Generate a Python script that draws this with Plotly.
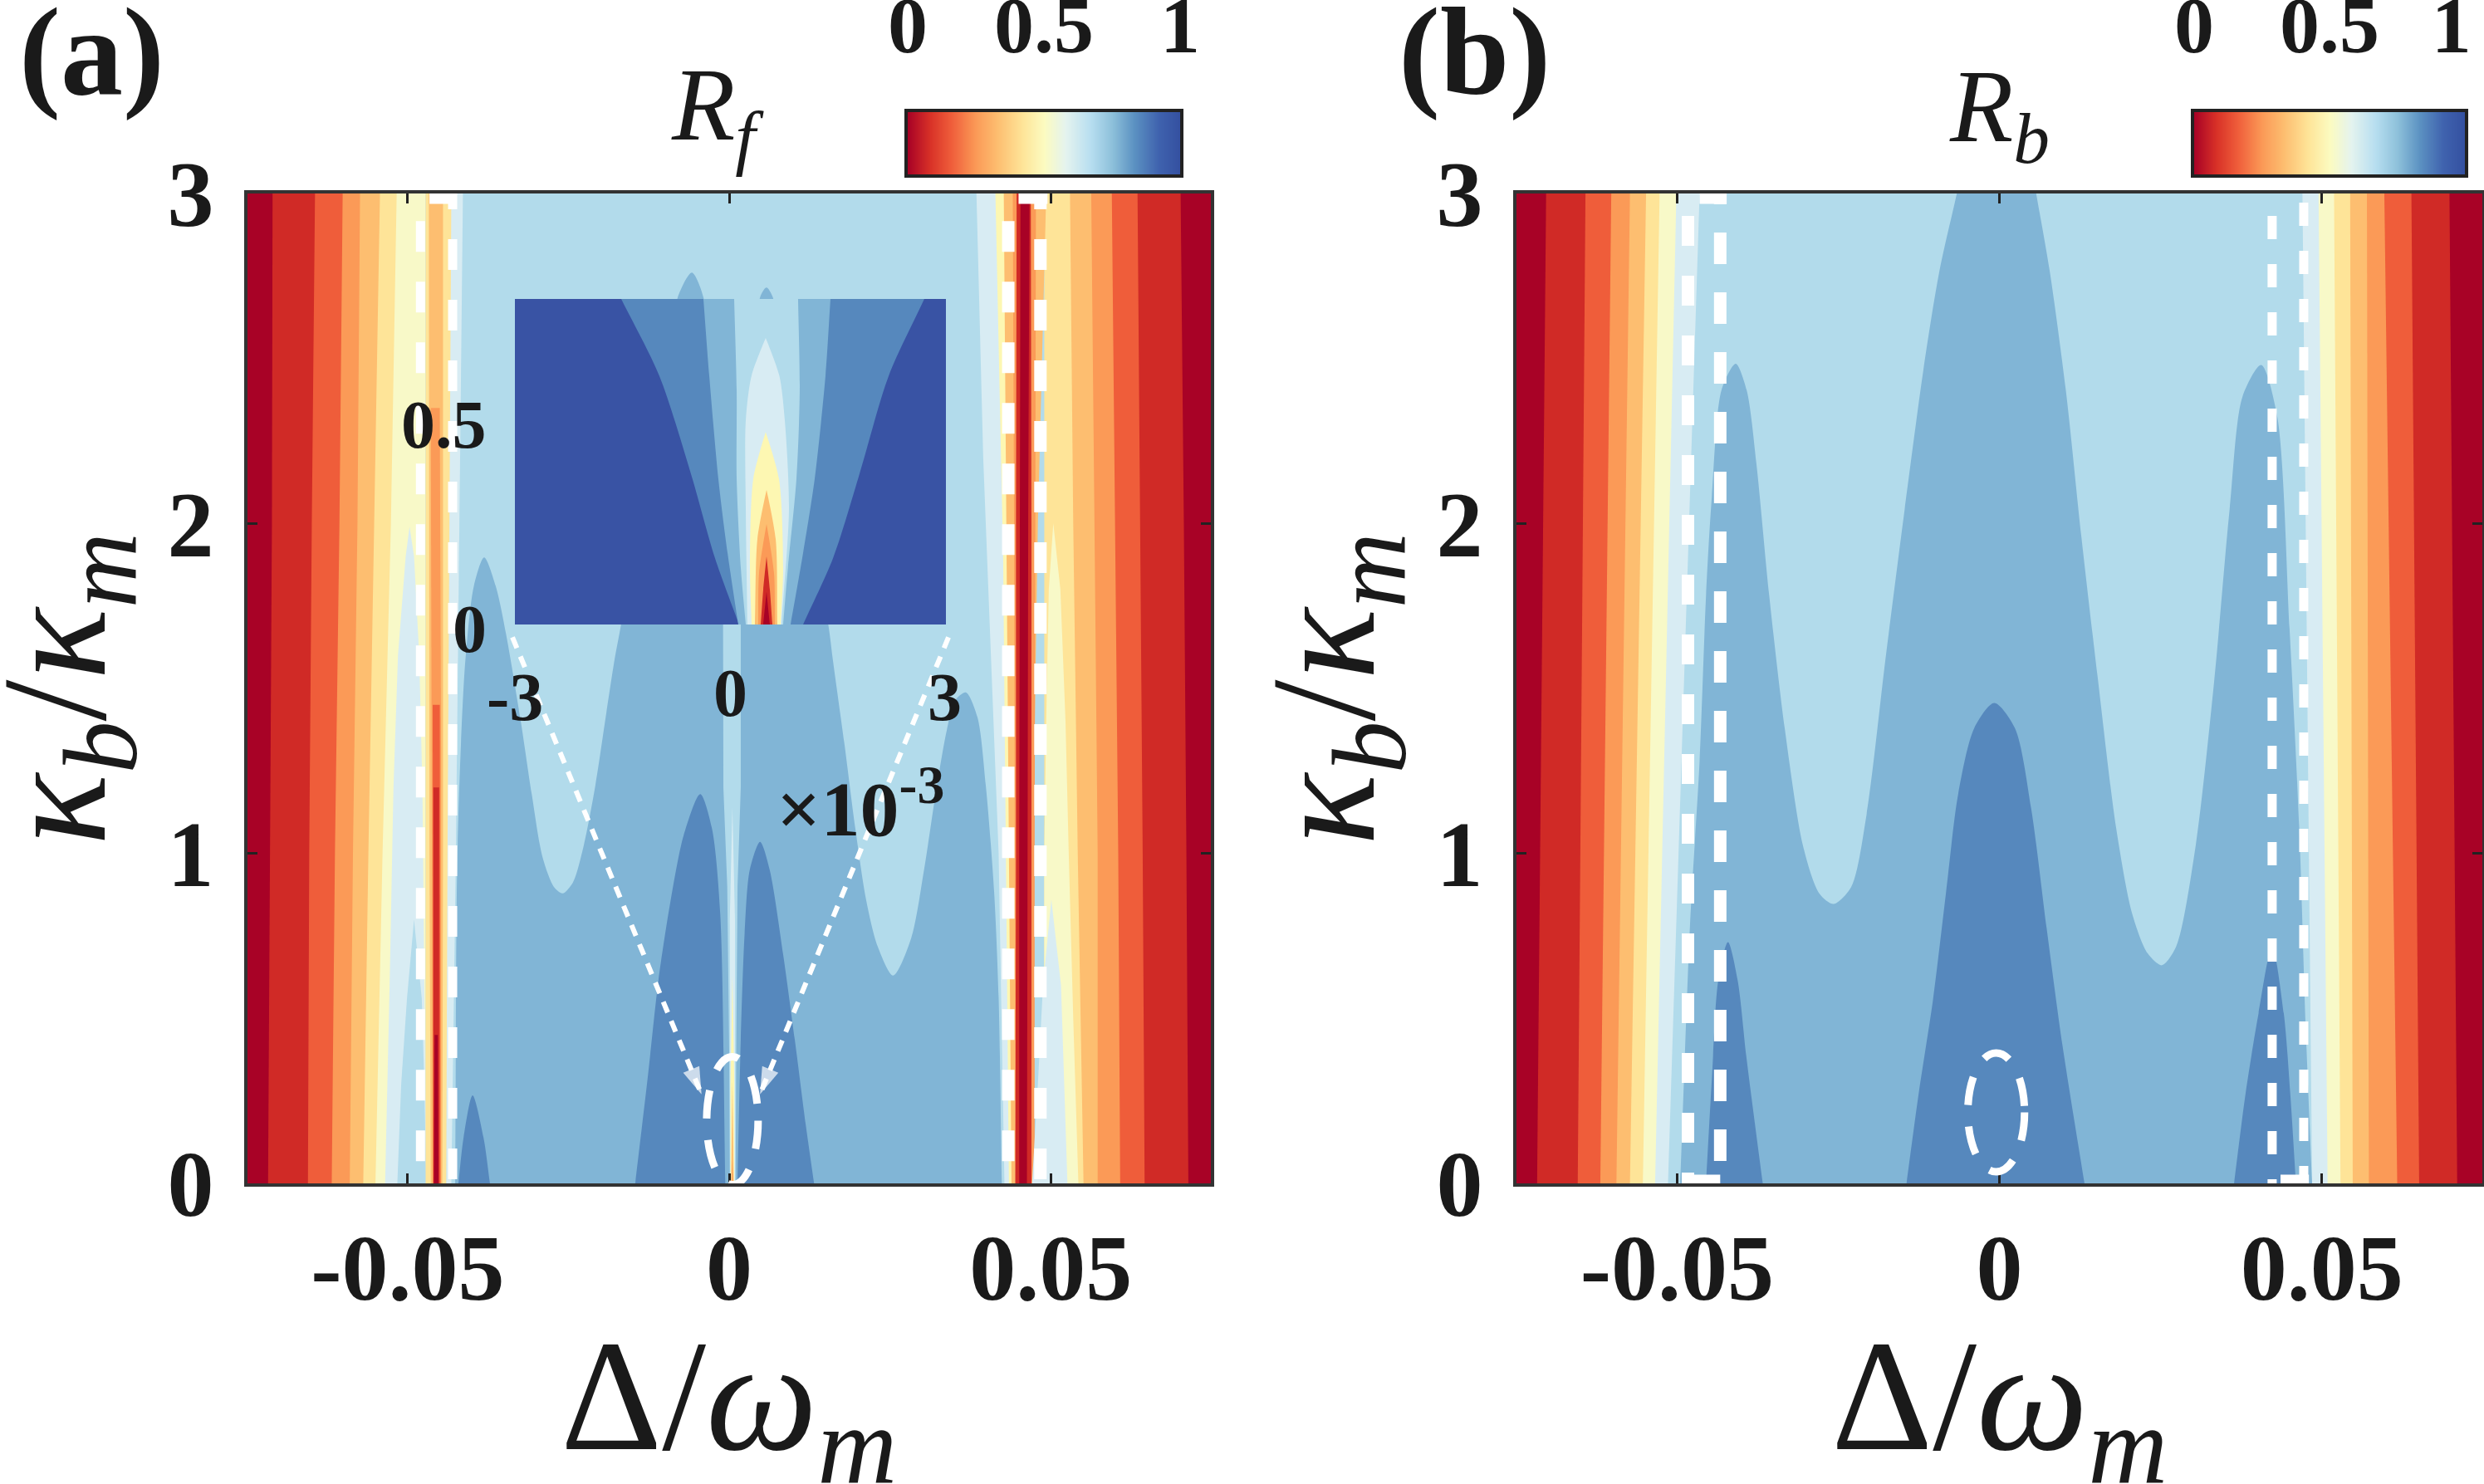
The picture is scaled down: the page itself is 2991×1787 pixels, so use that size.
import plotly.graph_objects as go

# ---------- colours of the contour levels ----------
C_DARKRED = "#a80226"
C_RED = "#d02a26"
C_ORED = "#ef5d3a"
C_ORANGE = "#fb9a57"
C_LORANGE = "#fdbe70"
C_SAND = "#fee498"
C_YELLOW = "#f8f9c8"
C_LEMON = "#fdf7b2"
C_PALE = "#d8ecf3"
C_LIGHT = "#b2dbeb"
C_MID = "#81b5d6"
C_DARK = "#5688bd"
C_NAVY = "#3953a4"

X_MAX = 0.0749
X_TICKS = [-0.05, 0, 0.05]
X_TEXT = ["-0.05", "0", "0.05"]
Y_TICKS = [0, 1, 2, 3]
CB_VALUES = [0.0, 0.08, 0.16, 0.25, 0.33, 0.42, 0.5, 0.58, 0.67, 0.75, 0.83, 0.92, 1.0]
CB_SCALE = [C_DARKRED, "#d73027", C_ORED, C_ORANGE, C_LORANGE, C_SAND, "#fcfbc0",
            "#e4f3ef", "#b7def0", "#8dc0da", "#5c92c2", "#3f62ae", "#3450a0"]

# ---------- panel (a): edge stripes, boundary at kappa = STRIPE_Y ----------
STRIPE_Y = [3, 2, 1, 0]
A_LEFT = [
    (C_YELLOW, [-0.0472, -0.0472, -0.0472, -0.0472]),
    (C_SAND, [-0.0517, -0.0526, -0.0539, -0.0550]),
    (C_LORANGE, [-0.0543, -0.0552, -0.0561, -0.0569]),
    (C_ORANGE, [-0.0574, -0.0578, -0.0585, -0.0590]),
    (C_ORED, [-0.0601, -0.0606, -0.0613, -0.0618]),
    (C_RED, [-0.0644, -0.0649, -0.0653, -0.0655]),
    (C_DARKRED, [-0.0710, -0.0711, -0.0714, -0.0717]),
]
A_RIGHT = [
    (C_SAND, [0.0490, 0.0490, 0.0490, 0.0490]),
    (C_LORANGE, [0.0530, 0.0535, 0.0542, 0.0551]),
    (C_ORANGE, [0.0563, 0.0568, 0.0573, 0.0573]),
    (C_ORED, [0.0595, 0.0600, 0.0605, 0.0608]),
    (C_RED, [0.0635, 0.0639, 0.0643, 0.0646]),
    (C_DARKRED, [0.0702, 0.0707, 0.0711, 0.0714]),
]

# panel (a): resonance strips (colour, kappa, left edge, right edge)
A_BANDS = [
    (C_PALE, [3, 1, 0], [-0.0440, -0.0440, -0.0440], [-0.0414, -0.0425, -0.0432]),
    (C_PALE, [1.99, 1.9, 1.6, 1.2, 0.6, 0], [-0.0497, -0.0503, -0.0515, -0.0522, -0.0528, -0.0535],
     [-0.0497, -0.0490, -0.0482, -0.0477, -0.0474, -0.0471]),
    (C_LIGHT, [0.8, 0.56, 0.3, 0], [-0.0490, -0.0501, -0.0510, -0.0516], [-0.0490, -0.0478, -0.0474, -0.0471]),
    (C_SAND, [3, 1, 0], [-0.0472, -0.0472, -0.0472], [-0.0432, -0.0438, -0.0440]),
    (C_LORANGE, [3, 1, 0], [-0.0467, -0.0466, -0.0464], [-0.0445, -0.0445, -0.0446]),
    (C_ORANGE, [2.35, 1.3, 0], [-0.0464, -0.0463, -0.0461], [-0.0450, -0.0448, -0.0448]),
    (C_ORED, [1.45, 0], [-0.0461, -0.0460], [-0.0450, -0.0449]),
    (C_RED, [1.2, 0], [-0.0460, -0.0460], [-0.0451, -0.0451]),
    (C_DARKRED, [0.45, 0], [-0.0458, -0.0459], [-0.0453, -0.0452]),
    (C_PALE, [3, 2.2, 1.5, 1, 0], [0.03845, 0.0395, 0.0409, 0.0419, 0.0428], [0.046, 0.046, 0.046, 0.046, 0.046]),
    (C_LEMON, [3, 1.9, 0], [0.0414, 0.0426, 0.0435], [0.046, 0.046, 0.046]),
    (C_LORANGE, [3, 2, 1, 0], [0.0427, 0.0431, 0.0435, 0.0439], [0.0493, 0.0480, 0.0472, 0.0471]),
    (C_ORANGE, [3, 2, 1, 0], [0.0441, 0.0443, 0.0444, 0.0445], [0.0477, 0.0476, 0.0475, 0.0475]),
    (C_RED, [3, 2, 1, 0], [0.0447, 0.0446, 0.0446, 0.0445], [0.0469, 0.0470, 0.0470, 0.0470]),
    (C_DARKRED, [3, 2, 1, 0], [0.0453, 0.0452, 0.0451, 0.0451], [0.0467, 0.0465, 0.0464, 0.0463]),
    (C_YELLOW, [2.0, 1.8, 1.4, 1, 0.5, 0], [0.0504, 0.0497, 0.0493, 0.0490, 0.0490, 0.0490],
     [0.0504, 0.0515, 0.0523, 0.0528, 0.0535, 0.0543]),
    (C_PALE, [0.86, 0.6, 0.3, 0], [0.0501, 0.0488, 0.0480, 0.0471], [0.0501, 0.0516, 0.0521, 0.0526]),
]

# panel (a): level outlines in the middle
A_MID_X = [-0.0426, -0.0423, -0.0417, -0.0410, -0.0397, -0.0381, -0.0363, -0.0346, -0.0324, -0.0307, -0.0290,
           -0.0272, -0.0259, -0.0243, -0.0226, -0.0208, -0.0191, -0.0178, -0.0168, -0.0135, -0.0095, -0.0080,
           -0.0058, -0.0040, -0.0028, -0.0015, -0.0009, 0.0018, 0.0030, 0.0048, 0.0058, 0.0068, 0.0105, 0.0154,
           0.0161, 0.0179, 0.0196, 0.0213, 0.0231, 0.0255, 0.0283, 0.0303, 0.0321, 0.0338, 0.0351, 0.0368,
           0.0386, 0.0399, 0.0412, 0.0419, 0.0424]
A_MID_Y = [0, 0.95, 1.335, 1.59, 1.81, 1.897, 1.81, 1.655, 1.40, 1.18, 0.987, 0.897, 0.879, 0.912, 1.025, 1.207,
           1.426, 1.59, 1.695, 2.1, 2.5, 2.685, 2.76, 2.685, 2.4, 2.0, 1.7, 1.7, 2.2, 2.685, 2.715, 2.685, 2.2,
           1.695, 1.59, 1.335, 1.078, 0.859, 0.718, 0.63, 0.743, 0.95, 1.18, 1.37, 1.463, 1.488, 1.413, 1.207,
           0.884, 0.564, 0]
A_LOBE1_X = [-0.0146, -0.0126, -0.0110, -0.0092, -0.0071, -0.0045, -0.0027, -0.0014, -0.0006]
A_LOBE1_Y = [0, 0.332, 0.615, 0.846, 1.053, 1.18, 1.078, 0.82, 0]
A_LOBE2_X = [0.0013, 0.0018, 0.0024, 0.0032, 0.0048, 0.0063, 0.0084, 0.0102, 0.0119, 0.0132]
A_LOBE2_Y = [0, 0.436, 0.756, 0.95, 1.035, 0.95, 0.693, 0.436, 0.179, 0]
A_LOBE3_X = [-0.0421, -0.0413, -0.0399, -0.0382, -0.0372]
A_LOBE3_Y = [0, 0.139, 0.267, 0.139, 0]
A_CENTRE = [
    (C_LIGHT, [2.2, 1.2, 0.9, 0.4, 0], [-0.0010, -0.0009, -0.0003, 0.0000, 0.0001], [0.0018, 0.0018, 0.0013, 0.0011, 0.0010]),
    (C_PALE, [1.14, 0.8, 0], [0.0005, 0.0001, 0.0002], [0.0005, 0.0009, 0.0009]),
    (C_LEMON, [0.63, 0.3, 0], [0.0005, 0.0002, 0.0002], [0.0005, 0.0008, 0.0008]),
    (C_LORANGE, [0.31, 0], [0.0005, 0.0003], [0.0005, 0.0007]),
    (C_ORANGE, [0.07, 0], [0.0005, 0.0004], [0.0005, 0.0006]),
]

# ---------- inset of panel (a) ----------
INSET_BANDS = [
    (C_DARK, [0.81, 0.618, 0.368, 0.165, 0], [-1.520, -0.988, -0.538, -0.214, 0.121],
     [2.699, 2.202, 1.786, 1.428, 1.012]),
    (C_MID, [0.81, 0.62, 0.362, 0.178, 0], [-0.376, -0.295, -0.168, -0.040, 0.110],
     [1.393, 1.324, 1.173, 1.012, 0.838]),
    (C_LIGHT, [0.81, 0.583, 0.362, 0.140, 0], [0.052, 0.087, 0.087, 0.145, 0.214],
     [0.942, 0.965, 0.919, 0.800, 0.734]),
    (C_PALE, [0.713, 0.62, 0.508, 0.287, 0], [0.491, 0.295, 0.214, 0.214, 0.237],
     [0.491, 0.680, 0.757, 0.815, 0.711]),
    (C_LEMON, [0.479, 0.362, 0.140, 0], [0.491, 0.318, 0.272, 0.295], [0.491, 0.676, 0.734, 0.699]),
    (C_LORANGE, [0.335, 0.213, 0], [0.503, 0.376, 0.341], [0.503, 0.630, 0.653]),
    (C_ORANGE, [0.25, 0.128, 0], [0.503, 0.399, 0.387], [0.503, 0.607, 0.618]),
    (C_RED, [0.169, 0.087, 0], [0.503, 0.457, 0.422], [0.503, 0.549, 0.584]),
    (C_DARKRED, [0.081, 0], [0.503, 0.457], [0.503, 0.549]),
]

# ---------- panel (b) ----------
B_Y = [3, 0]
B_LEFT = [
    (C_PALE, [-0.0465, -0.0514]),
    (C_YELLOW, [-0.0501, -0.0534]),
    (C_SAND, [-0.0527, -0.0553]),
    (C_LORANGE, [-0.0548, -0.0573]),
    (C_ORANGE, [-0.0573, -0.0594]),
    (C_ORED, [-0.0602, -0.0619]),
    (C_RED, [-0.0642, -0.0654]),
    (C_DARKRED, [-0.0703, -0.0717]),
]
B_RIGHT = [
    (C_PALE, [0.0470, 0.0485]),
    (C_YELLOW, [0.0495, 0.0509]),
    (C_SAND, [0.0519, 0.0529]),
    (C_LORANGE, [0.0544, 0.0548]),
    (C_ORANGE, [0.0570, 0.0573]),
    (C_ORED, [0.0597, 0.0617]),
    (C_RED, [0.0639, 0.0651]),
    (C_DARKRED, [0.0698, 0.0710]),
]
B_MID_X = [-0.0495, -0.0480, -0.0465, -0.0455, -0.0446, -0.0431, -0.0409, -0.0392, -0.0377, -0.0357, -0.0333,
           -0.0304, -0.0279, -0.0257, -0.0230, -0.0206, -0.0176, -0.0147, -0.0118, -0.0093, -0.0066, -0.0032,
           0.0030, 0.0057, 0.0078, 0.0103, 0.0127, 0.0152, 0.0181, 0.0206, 0.0230, 0.0252, 0.0274, 0.0304,
           0.0333, 0.0357, 0.0377, 0.0406, 0.0431, 0.0450, 0.0465, 0.0475, 0.0485]
B_MID_Y = [0, 0.777, 1.279, 1.781, 2.082, 2.404, 2.484, 2.404, 2.183, 1.781, 1.380, 1.018, 0.878, 0.847, 0.898,
           1.118, 1.600, 2.042, 2.464, 2.765, 3, 3.3, 3.3, 3, 2.765, 2.404, 1.962, 1.540, 1.078, 0.817, 0.697,
           0.661, 0.717, 1.018, 1.520, 2.042, 2.384, 2.480, 2.323, 1.681, 1.078, 0.476, 0]
B_LOBE1_X = [-0.0144, -0.0125, -0.0103, -0.0083, -0.0064, -0.0039, -0.0008, 0.0024, 0.0049, 0.0073, 0.0098, 0.0132]
B_LOBE1_Y = [0, 0.275, 0.556, 0.878, 1.179, 1.380, 1.456, 1.380, 1.139, 0.777, 0.416, 0]
B_LOBE2_X = [-0.0455, -0.0446, -0.0436, -0.0421, -0.0406, -0.0392, -0.0367]
B_LOBE2_Y = [0, 0.315, 0.616, 0.731, 0.616, 0.376, 0]
B_LOBE3_X = [0.0364, 0.0382, 0.0402, 0.0423, 0.0441, 0.0451, 0.0460]
B_LOBE3_Y = [0, 0.275, 0.516, 0.717, 0.516, 0.275, 0]

# ---------- white dashed guides: (x, first y, line width, dash pattern) ----------
A_GUIDES = [(-0.0480, 3.10, 11, "37px,36px"), (-0.0430, 3.045, 11, "37px,36px"),
            (0.0434, 3.10, 15, "37px,36px"), (0.0484, 3.045, 15, "37px,36px")]
A_CAPS = [(-0.0466, -0.0424, 2.985), (0.0450, 0.0495, 2.985)]
B_GUIDES = [(-0.0483, 3.113, 15, "36px,36px"), (-0.0433, 3.063, 15, "38px,34px"),
            (0.0423, 3.078, 11, "28px,30px"), (0.0472, 3.118, 11, "28px,30px")]
B_CAPS = [(-0.0465, -0.0423, 2.985), (-0.0480, -0.0433, 0.01), (0.0436, 0.0480, 0.01)]
A_ARROWS = [([-0.0337, -0.0043], [1.655, 0.27]), ([0.0341, 0.0048], [1.655, 0.27])]
A_ELLIPSE = (0.0005, 0.19, 0.0040, 0.194)
B_ELLIPSE = (-0.0005, 0.215, 0.0044, 0.18)

W, H = 2991, 1787
SERIF = "Liberation Serif"
fig = go.Figure()


def dom_x(a, b):
    return [a / W, b / W]


def dom_y(top, bottom):
    return [1 - bottom / H, 1 - top / H]


def poly(n, xs, ys, color, smooth=False):
    suffix = "" if n == 1 else str(n)
    line = dict(width=0, shape="spline", smoothing=0.8) if smooth else dict(width=0)
    fig.add_trace(go.Scatter(x=xs, y=ys, fill="toself", fillcolor=color, mode="lines", line=line,
                             xaxis="x" + suffix, yaxis="y" + suffix, hoverinfo="skip", showlegend=False))


def run_on(a, b):
    # continue an outline past the axis edge, so that the smoothed curve crosses the edge straight
    return 2 * a - b


def lobe(n, xs, ys, color):
    px = [run_on(xs[0], xs[1])] + xs + [run_on(xs[-1], xs[-2])]
    py = [run_on(ys[0], ys[1])] + ys + [run_on(ys[-1], ys[-2])]
    poly(n, px + [px[0]], py + [py[0]], color, smooth=True)


def band(n, ys, left, right, color, smooth=False):
    ys, left, right = list(ys), list(left), list(right)
    if smooth:
        ys = ys + [run_on(ys[-1], ys[-2])]
        left = left + [run_on(left[-1], left[-2])]
        right = right + [run_on(right[-1], right[-2])]
        if left[0] != right[0]:
            ys = [run_on(ys[0], ys[1])] + ys
            left = [run_on(left[0], left[1])] + left
            right = [run_on(right[0], right[1])] + right
    poly(n, left + right[::-1] + [left[0]], ys + ys[::-1] + [ys[0]], color, smooth)


def edge(n, stripes, ys, side):
    for color, xs in stripes:
        band(n, ys, [side * X_MAX] * len(ys), xs, color)


def guides(n, items, caps):
    suffix = "" if n == 1 else str(n)
    for x, y0, w, dash in items:
        fig.add_trace(go.Scatter(x=[x, x], y=[y0, 0], mode="lines", line=dict(color="white", width=w, dash=dash),
                                 xaxis="x" + suffix, yaxis="y" + suffix, hoverinfo="skip", showlegend=False))
    for x0, x1, y in caps:
        fig.add_trace(go.Scatter(x=[x0, x1], y=[y, y], mode="lines", line=dict(color="white", width=13),
                                 xaxis="x" + suffix, yaxis="y" + suffix, hoverinfo="skip", showlegend=False))


# panel (a)
band(1, [3, 0], [-X_MAX, -X_MAX], [X_MAX, X_MAX], C_LIGHT)
lobe(1, A_MID_X, A_MID_Y, C_MID)
lobe(1, A_LOBE1_X, A_LOBE1_Y, C_DARK)
lobe(1, A_LOBE2_X, A_LOBE2_Y, C_DARK)
lobe(1, A_LOBE3_X, A_LOBE3_Y, C_DARK)
for color, ys, lx, rx in A_CENTRE:
    band(1, ys, lx, rx, color)
edge(1, A_LEFT, STRIPE_Y, -1)
edge(1, A_RIGHT, STRIPE_Y, 1)
for color, ys, lx, rx in A_BANDS:
    band(1, ys, lx, rx, color)
guides(1, A_GUIDES, A_CAPS)
for xs, ys in A_ARROWS:
    fig.add_trace(go.Scatter(x=xs, y=ys, mode="lines", line=dict(color="white", width=6, dash="14px,11px"),
                             hoverinfo="skip", showlegend=False))
    fig.add_trace(go.Scatter(x=xs, y=ys, mode="markers",
                             marker=dict(symbol="arrow", size=[0, 34], color="white", angleref="previous",
                                         line=dict(width=0)),
                             hoverinfo="skip", showlegend=False))

# panel (b)
band(2, [3, 0], [-X_MAX, -X_MAX], [X_MAX, X_MAX], C_LIGHT)
lobe(2, B_MID_X, B_MID_Y, C_MID)
lobe(2, B_LOBE1_X, B_LOBE1_Y, C_DARK)
lobe(2, B_LOBE2_X, B_LOBE2_Y, C_DARK)
lobe(2, B_LOBE3_X, B_LOBE3_Y, C_DARK)
edge(2, B_LEFT, B_Y, -1)
edge(2, B_RIGHT, B_Y, 1)
guides(2, B_GUIDES, B_CAPS)

# inset
band(3, [0.81, 0], [-3, -3], [3, 3], C_NAVY)
for color, ys, lx, rx in INSET_BANDS:
    band(3, ys, lx, rx, color, smooth=True)

# colour bars
scale = [[v, c] for v, c in zip(CB_VALUES, CB_SCALE)]
for n in (4, 5):
    fig.add_trace(go.Heatmap(x=CB_VALUES, y=[0, 1], z=[CB_VALUES, CB_VALUES], colorscale=scale, zmin=0, zmax=1,
                             zsmooth="best", showscale=False, hoverinfo="skip",
                             xaxis=f"x{n}", yaxis=f"y{n}"))

# full-page reference axes that only carry the text labels
fig.add_trace(go.Scatter(x=[0, W], y=[H, 0], mode="none", xaxis="x6", yaxis="y6", hoverinfo="skip", showlegend=False))

axis_font = dict(family=SERIF, size=112, color="#1a1a1a", weight=700)


def main_x(a, b, anchor):
    return dict(domain=dom_x(a, b), range=[-X_MAX, X_MAX], anchor=anchor, tickvals=X_TICKS, ticktext=X_TEXT,
                ticks="inside", ticklen=12, tickwidth=3, tickcolor="#222", mirror="ticks", showline=True,
                linecolor="#333", linewidth=4, showgrid=False, zeroline=False, tickfont=axis_font,
                ticklabelstandoff=2, automargin=False)


def main_y(anchor):
    return dict(domain=dom_y(233, 1425), range=[0, 3], anchor=anchor, tickvals=Y_TICKS,
                ticks="inside", ticklen=12, tickwidth=3, tickcolor="#222", mirror="ticks", showline=True,
                linecolor="#333", linewidth=4, showgrid=False, zeroline=False, tickfont=axis_font,
                ticklabelstandoff=14, automargin=False)


def bar_axes(a, b, vals, anchor_x, anchor_y):
    xa = dict(domain=dom_x(a, b), range=[0, 1], anchor=anchor_y, side="top", tickvals=vals, ticktext=["0", "0.5", "1"],
              ticks="", showline=True, mirror=True, linecolor="#222", linewidth=4, showgrid=False, zeroline=False,
              tickfont=dict(family=SERIF, size=96, color="#1a1a1a", weight=700), ticklabelstandoff=30)
    ya = dict(domain=dom_y(135, 210), range=[0, 1], anchor=anchor_x, showticklabels=False, ticks="", showline=True,
              mirror=True, linecolor="#222", linewidth=4, showgrid=False, zeroline=False)
    return xa, ya


bar_a = bar_axes(1093, 1421, [0, 0.5, 1], "x4", "y4")
bar_b = bar_axes(2642, 2968, [0, 0.5, 0.95], "x5", "y5")


def text(s, px, py, size, angle=0, bold=False):
    fig.add_annotation(x=px, y=py, xref="x6", yref="y6", text=s, showarrow=False,
                       textangle=angle, xanchor="center", yanchor="middle",
                       font=dict(family=SERIF, size=size, color="#1a1a1a", weight=700 if bold else 400))


text("(a)", 110, 62, 150, bold=True)
text("(b)", 1775, 62, 150, bold=True)
text("<i>R</i><sub><i>f</i></sub>", 864, 135, 125)
text("<i>R</i><sub><i>b</i></sub>", 2407, 137, 125)
text("Δ/<i>ω</i><sub><i>m</i></sub>", 877, 1695, 190)
text("Δ/<i>ω</i><sub><i>m</i></sub>", 2407, 1695, 190)
text("<i>κ</i><sub><i>b</i></sub>/<i>κ</i><sub><i>m</i></sub>", 78, 830, 180, angle=-90)
text("<i>κ</i><sub><i>b</i></sub>/<i>κ</i><sub><i>m</i></sub>", 1606, 830, 180, angle=-90)
text("0.5", 534, 511, 82, bold=True)
text("0", 565, 757, 82, bold=True)
text("-3", 620, 839, 82, bold=True)
text("0", 879, 834, 82, bold=True)
text("3", 1137, 839, 82, bold=True)
text("×10<sup>-3</sup>", 1036, 967, 94, bold=True)

ell_style = dict(type="circle", line=dict(color="white", width=9, dash="34px,26px"), layer="above")
for (cx, cy, rx, ry), xr, yr in ((A_ELLIPSE, "x", "y"), (B_ELLIPSE, "x2", "y2")):
    fig.add_shape(x0=cx - rx, x1=cx + rx, y0=cy - ry, y1=cy + ry, xref=xr, yref=yr, **ell_style)

fig.update_layout(
    width=W, height=H, margin=dict(l=0, r=0, t=0, b=0, pad=0, autoexpand=False), paper_bgcolor="white",
    plot_bgcolor="rgba(0,0,0,0)", showlegend=False,
    xaxis=main_x(298, 1458, "y"), yaxis=main_y("x"),
    xaxis2=main_x(1826, 2989, "y2"), yaxis2=main_y("x2"),
    xaxis3=dict(domain=dom_x(620, 1139), range=[-3, 3], anchor="y3", visible=False),
    yaxis3=dict(domain=dom_y(360, 752), range=[0, 0.81], anchor="x3", visible=False),
    xaxis4=bar_a[0], yaxis4=bar_a[1], xaxis5=bar_b[0], yaxis5=bar_b[1],
    xaxis6=dict(domain=[0, 1], range=[0, W], anchor="y6", visible=False),
    yaxis6=dict(domain=[0, 1], range=[H, 0], anchor="x6", visible=False),
)

fig.write_html("out.html", config={"displayModeBar": False}, post_script="document.body.style.margin='0';")
